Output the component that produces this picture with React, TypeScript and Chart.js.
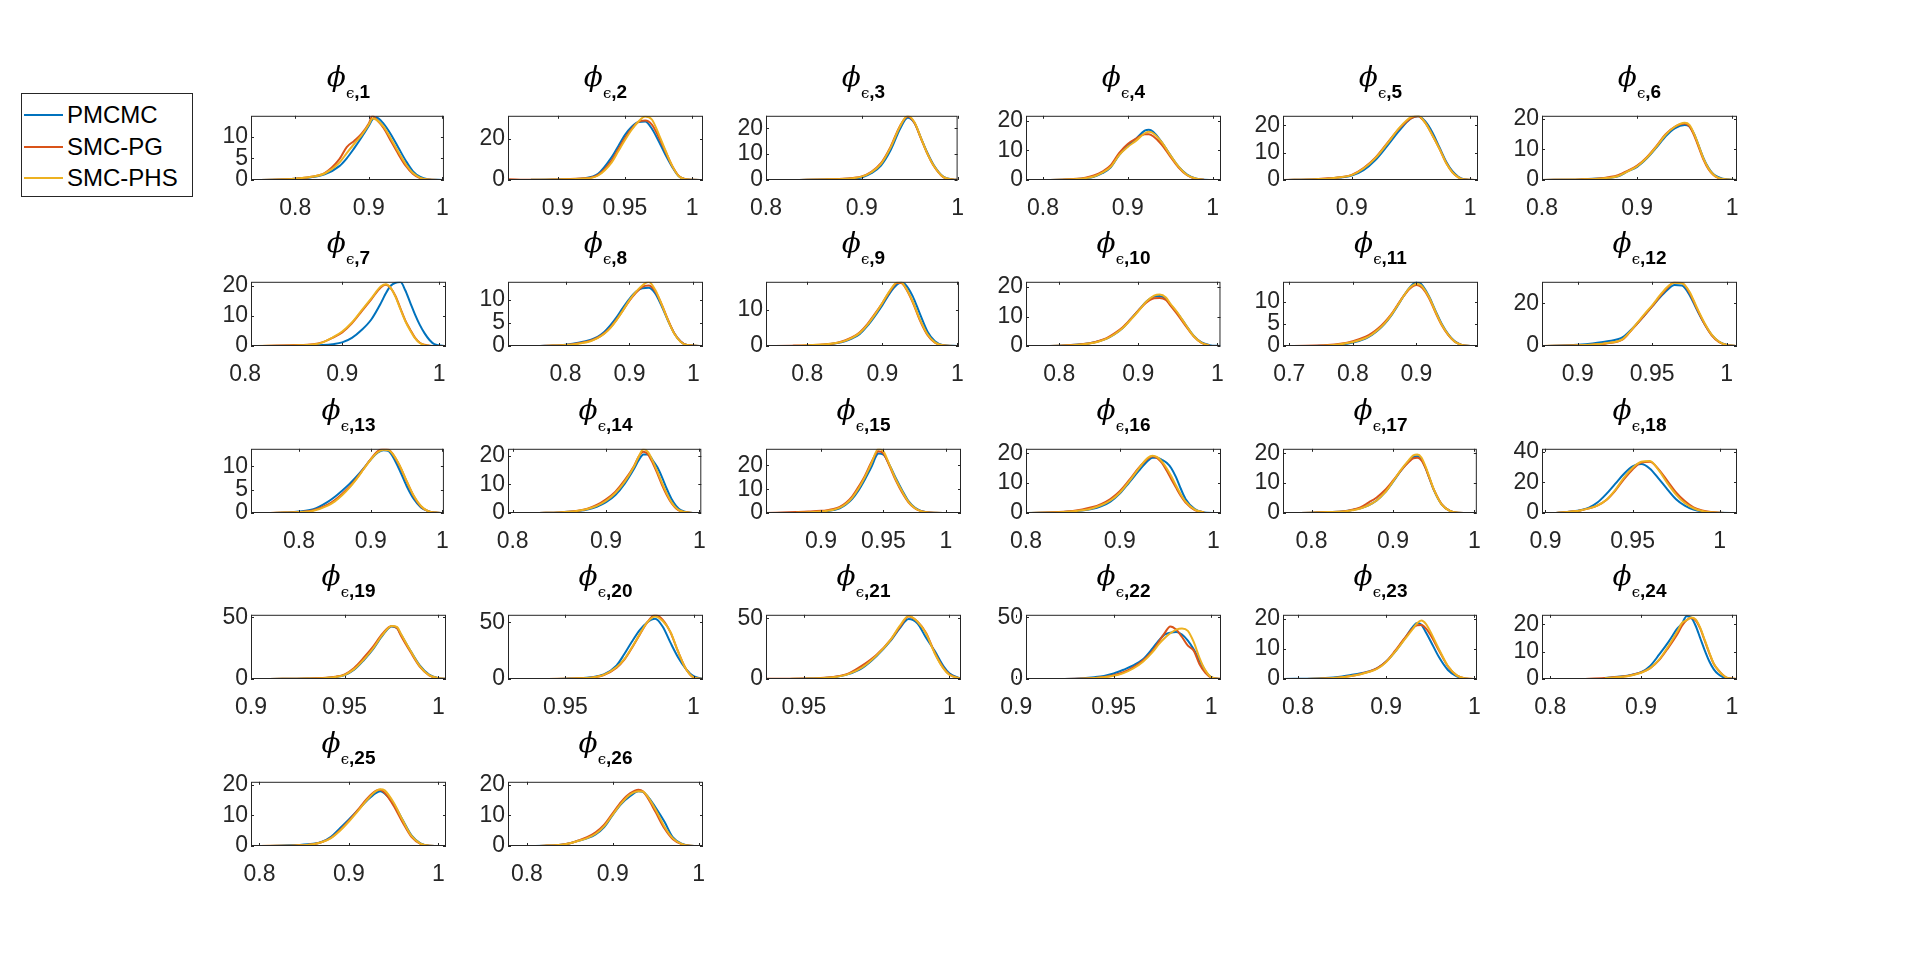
import React, { useEffect, useRef } from "react";
import { Chart, registerables } from "chart.js";
Chart.register(...registerables);

// ---------- series ----------
const SERIES_NAMES = ["PMCMC", "SMC-PG", "SMC-PHS"];
const SERIES_COLORS = ["#0072BD", "#D95319", "#EDB120"];
const N = null;

// ---------- data ----------
const x1 = [0.74, 0.78, 0.8, 0.82, 0.84, 0.86, 0.87, 0.88, 0.89, 0.9, 0.905, 0.91, 0.92, 0.93, 0.94, 0.95, 0.96, 0.97, 0.98, 1.0];
const pm1 = [0, 0.1, 0.3, 0.6, 1.3, 3.2, 5.0, 7.3, 9.8, 12.5, 14.0, 14.4, 13.0, 10.5, 7.5, 4.5, 2.0, 0.7, 0.2, 0];
const pg1 = [0, 0.1, 0.3, 0.7, 1.6, 4.8, 7.6, 9.0, 10.6, 13.0, 14.8, 14.0, 12.0, 9.0, 6.0, 3.3, 1.4, 0.4, 0.1, 0];
const phs1 = [0, 0.1, 0.3, 0.7, 1.5, 4.0, 6.2, 8.3, 10.3, 12.8, 14.2, 13.9, 12.3, 9.5, 6.5, 3.7, 1.6, 0.5, 0.1, 0];
const xlim1 = [0.74, 1.002]; const ymax1 = 14.8; const xt1 = [0.8, 0.9, 1]; const yt1 = [0, 5, 10];

const x2 = [0.863, 0.88, 0.9, 0.92, 0.93, 0.94, 0.945, 0.95, 0.955, 0.96, 0.965, 0.97, 0.975, 0.98, 0.985, 0.99, 0.995, 1.0, 1.008];
const pm2 = [N, 0.1, 0.3, 0.9, 3.0, 11, 16.5, 22, 26, 28.3, 28.5, 25, 19, 12.4, 6.5, 1.8, 0.4, 0.1, 0];
const pg2 = [0.4, 0.1, 0.3, 0.8, 2.5, 9.5, 15, 20.5, 25, 28.3, 29.0, 27, 21, 14, 7, 2.0, 0.4, 0.1, 0];
const phs2 = [N, 0.1, 0.3, 0.7, 2.2, 8.5, 14, 19.5, 24.5, 28.5, 31, 29.5, 22.5, 14.5, 7, 1.8, 0.4, 0.1, 0];
const xlim2 = [0.863, 1.008]; const ymax2 = 31.3; const xt2 = [0.9, 0.95, 1]; const yt2 = [0, 20];

const x3 = [0.835, 0.86, 0.88, 0.89, 0.9, 0.91, 0.92, 0.93, 0.94, 0.948, 0.955, 0.962, 0.968, 0.975, 0.985, 0.995, 1.0];
const pm3 = [0, 0.2, 0.4, 0.6, 1.0, 2.6, 5.6, 11.5, 19.8, 24.0, 22.0, 16.0, 10.8, 5.8, 1.3, 0.2, 0];
const pg3 = [0, 0.2, 0.5, 0.8, 1.4, 3.2, 6.5, 12.8, 21.0, 24.5, 22.0, 15.8, 10.5, 5.5, 1.1, 0.2, 0];
const phs3 = [0, 0.2, 0.4, 0.7, 1.3, 3.0, 6.2, 12.5, 20.8, 24.8, 22.3, 16.0, 10.6, 5.6, 1.2, 0.2, 0];
const xlim3 = [0.8, 1.0]; const ymax3 = 24.8; const xt3 = [0.8, 0.9, 1]; const yt3 = [0, 10, 20];

const x4 = [0.78, 0.82, 0.84, 0.85, 0.86, 0.87, 0.88, 0.89, 0.9, 0.91, 0.92, 0.925, 0.93, 0.94, 0.95, 0.96, 0.97, 0.98, 0.99, 1.01];
const pm4 = [0, 0.1, 0.3, 0.6, 1.1, 2.3, 4.3, 8.5, 11.5, 14.0, 16.7, 17.0, 16.3, 12.8, 8.5, 4.5, 1.8, 0.5, 0.1, 0];
const pg4 = [0, 0.1, 0.4, 0.8, 1.5, 2.8, 5.0, 9.2, 12.2, 14.0, 15.5, 15.5, 14.8, 12.0, 8.0, 4.2, 1.6, 0.4, 0.1, N];
const phs4 = [0, 0.1, 0.3, 0.6, 1.2, 2.5, 4.5, 8.5, 11.2, 13.3, 15.8, 16.3, 15.8, 12.8, 8.5, 4.5, 1.7, 0.5, 0.1, N];
const xlim4 = [0.78, 1.01]; const ymax4 = 21.7; const xt4 = [0.8, 0.9, 1]; const yt4 = [0, 10, 20];

const x5 = [0.842, 0.87, 0.88, 0.89, 0.9, 0.91, 0.92, 0.93, 0.94, 0.95, 0.956, 0.962, 0.968, 0.974, 0.98, 0.985, 0.99, 0.995, 1.0066];
const pm5 = [0, 0.3, 0.5, 0.9, 1.6, 3.6, 7.3, 12.5, 18, 22.5, 23.3, 21.5, 17.5, 12, 6.5, 3.2, 1.2, 0.3, 0];
const pg5 = [0, 0.3, 0.6, 1.0, 1.9, 4.4, 8.2, 13.5, 18.8, 22.6, 23.3, 21, 16.5, 11.5, 6, 2.8, 1.0, 0.2, 0];
const phs5 = [0, 0.3, 0.5, 1.0, 1.8, 4.2, 8.0, 13.3, 19, 23, 23.5, 21, 16.5, 11.5, 6, 2.8, 1, 0.2, 0];
const xlim5 = [0.842, 1.0066]; const ymax5 = 23.5; const xt5 = [0.9, 1]; const yt5 = [0, 10, 20];

const x6 = [0.8, 0.84, 0.86, 0.87, 0.88, 0.89, 0.9, 0.91, 0.92, 0.93, 0.94, 0.95, 0.955, 0.96, 0.965, 0.97, 0.975, 0.98, 0.985, 0.99, 1.005];
const pm6 = [0, 0.2, 0.5, 0.7, 1.2, 2.8, 4.3, 7.0, 10.5, 14.3, 17.0, 18.0, 17.5, 15.0, 11.0, 7.0, 4.0, 2.0, 1.0, 0.4, 0];
const pg6 = [0, 0.2, 0.5, 0.9, 1.6, 3.0, 4.7, 7.4, 11.0, 15.0, 17.5, 18.5, 17.5, 14.5, 10.5, 6.5, 3.5, 1.7, 0.7, 0.2, 0];
const phs6 = [0, 0.2, 0.4, 0.7, 1.3, 2.8, 4.5, 7.2, 10.8, 14.8, 17.5, 18.7, 18.0, 15, 11, 6.8, 3.8, 1.8, 0.8, 0.3, 0];
const xlim6 = [0.8, 1.005]; const ymax6 = 21; const xt6 = [0.8, 0.9, 1]; const yt6 = [0, 10, 20];

const x7 = [0.812, 0.85, 0.87, 0.88, 0.89, 0.9, 0.91, 0.92, 0.93, 0.94, 0.945, 0.95, 0.955, 0.96, 0.965, 0.97, 0.975, 0.98, 0.985, 0.99, 0.995, 1.007];
const pm7 = [0, 0.1, 0.2, 0.3, 0.6, 1.2, 2.7, 5.3, 8.8, 14.3, 17.5, 20, 21, 21.2, 18.5, 14.5, 10.5, 7, 4.2, 2.0, 0.6, 0];
const pg7 = [0, 0.3, 0.6, 1.3, 2.7, 4.5, 7.5, 11.5, 15.5, 19.5, 20.3, 19.2, 16.5, 12.5, 8.5, 5.5, 2.8, 1.1, 0.4, 0.1, 0, 0];
const phs7 = [0, 0.2, 0.5, 1.2, 2.8, 4.8, 7.8, 11.8, 15.8, 19.8, 20.5, 19.3, 16.3, 12.2, 8.3, 5.2, 2.6, 1.0, 0.3, 0.1, 0, 0];
const xlim7 = [0.806, 1.007]; const ymax7 = 21.3; const xt7 = [0.8, 0.9, 1]; const yt7 = [0, 10, 20];

const x8 = [0.71, 0.76, 0.78, 0.8, 0.82, 0.84, 0.85, 0.86, 0.87, 0.88, 0.89, 0.9, 0.91, 0.92, 0.93, 0.94, 0.95, 0.96, 0.97, 0.98, 0.99, 1.015];
const pm8 = [N, 0, 0.1, 0.3, 0.7, 1.4, 2.0, 3.0, 4.5, 6.3, 8.4, 10.3, 11.8, 12.6, 12.7, 11.5, 8.8, 5.6, 2.8, 1.0, 0.2, 0];
const pg8 = [N, 0, 0.1, 0.2, 0.6, 1.2, 1.8, 2.7, 4.0, 5.8, 7.8, 9.9, 11.6, 12.9, 13.2, 12.0, 9.2, 5.8, 2.8, 1.0, 0.2, 0];
const phs8 = [0, 0, 0.1, 0.2, 0.5, 1.1, 1.7, 2.6, 3.9, 5.7, 7.8, 10, 11.8, 13.2, 14.0, 12.3, 9.2, 5.7, 2.7, 0.9, 0.2, 0];
const xlim8 = [0.71, 1.015]; const ymax8 = 14; const xt8 = [0.8, 0.9, 1]; const yt8 = [0, 5, 10];

const x9 = [0.745, 0.78, 0.8, 0.82, 0.84, 0.85, 0.86, 0.87, 0.88, 0.89, 0.9, 0.91, 0.92, 0.925, 0.93, 0.94, 0.95, 0.96, 0.97, 0.98, 1.0];
const pm9 = [N, N, 0.1, 0.3, 0.8, 1.3, 2.1, 3.3, 5.5, 8.2, 11.2, 14.5, 16.9, 17.4, 17.0, 13.8, 8.8, 4.0, 1.3, 0.3, 0];
const pg9 = [0, 0.1, 0.2, 0.4, 0.9, 1.5, 2.4, 3.8, 6.0, 8.8, 11.8, 15.0, 17.3, 17.3, 16.2, 12.2, 7.0, 3.0, 0.9, 0.2, 0];
const phs9 = [N, 0, 0.2, 0.4, 0.9, 1.4, 2.3, 3.6, 5.8, 8.6, 11.8, 15.2, 17.5, 17.5, 16.3, 12.4, 7.3, 3.2, 1.0, 0.2, 0];
const xlim9 = [0.745, 1.002]; const ymax9 = 17.6; const xt9 = [0.8, 0.9, 1]; const yt9 = [0, 10];

const x10 = [0.758, 0.8, 0.82, 0.84, 0.85, 0.86, 0.87, 0.88, 0.89, 0.9, 0.91, 0.92, 0.927, 0.935, 0.94, 0.95, 0.96, 0.97, 0.98, 0.99, 1.004];
const pm10 = [0, 0.1, 0.4, 1.0, 1.6, 2.5, 4.0, 6.0, 9.0, 12.0, 15.0, 16.8, 17.0, 16, 14.3, 11.0, 7.2, 3.5, 1.2, 0.3, 0];
const pg10 = [0, 0.1, 0.4, 1.0, 1.7, 2.7, 4.3, 6.3, 9.0, 12.0, 14.7, 16.2, 16.3, 15.6, 14.0, 10.6, 6.8, 3.3, 1.1, 0.2, N];
const phs10 = [0, 0.1, 0.3, 0.9, 1.5, 2.5, 4.0, 6.0, 8.8, 11.8, 15.0, 17.1, 17.5, 16.5, 14.6, 11.2, 7.2, 3.4, 1.1, 0.2, N];
const xlim10 = [0.758, 1.004]; const ymax10 = 21.8; const xt10 = [0.8, 0.9, 1]; const yt10 = [0, 10, 20];

const x11 = [0.69, 0.74, 0.76, 0.78, 0.8, 0.82, 0.83, 0.84, 0.85, 0.86, 0.87, 0.88, 0.89, 0.9, 0.905, 0.91, 0.92, 0.93, 0.94, 0.95, 0.96, 0.97, 0.98, 0.997];
const pm11 = [N, 0, 0.1, 0.3, 0.8, 1.7, 2.5, 3.6, 5.0, 6.8, 9.0, 11.3, 13.3, 14.4, 14.3, 13.6, 11.2, 8.0, 5.0, 2.7, 1.1, 0.3, 0.05, 0];
const pg11 = [0, 0.1, 0.2, 0.5, 1.1, 2.1, 2.9, 4.0, 5.4, 7.1, 9.2, 11.3, 13.0, 13.8, 13.6, 13.0, 10.8, 7.6, 4.7, 2.5, 1.0, 0.3, 0.05, 0];
const phs11 = [N, 0, 0.1, 0.4, 0.9, 1.8, 2.6, 3.7, 5.1, 6.9, 9.1, 11.3, 13.2, 14.0, 13.9, 13.3, 11.0, 7.8, 4.8, 2.6, 1.0, 0.3, 0.05, 0];
const xlim11 = [0.69, 0.997]; const ymax11 = 14.5; const xt11 = [0.7, 0.8, 0.9]; const yt11 = [0, 5, 10];

const x12 = [0.876, 0.9, 0.91, 0.92, 0.93, 0.935, 0.94, 0.945, 0.95, 0.955, 0.96, 0.965, 0.97, 0.975, 0.98, 0.985, 0.99, 0.995, 1.0, 1.007];
const pm12 = [0, 0.6, 1.2, 2.2, 4.0, 7.0, 10.5, 14.5, 18.5, 22.5, 26, 28.5, 28.3, 24, 17, 10.5, 5.2, 2.0, 0.6, 0];
const pg12 = [0, 0.3, 0.6, 1.3, 3.0, 6.5, 10.5, 14.5, 18.5, 23, 27, 29.8, 29.5, 25, 17.5, 10.5, 5.0, 1.8, 0.5, 0];
const phs12 = [0, 0.3, 0.7, 1.4, 3.1, 6.6, 10.8, 15, 19, 23.5, 27.5, 29.5, 29.3, 25.5, 18, 11, 5.3, 2.0, 0.5, 0];
const xlim12 = [0.876, 1.007]; const ymax12 = 30; const xt12 = [0.9, 0.95, 1]; const yt12 = [0, 20];

const x13 = [0.733, 0.76, 0.78, 0.8, 0.82, 0.84, 0.85, 0.86, 0.87, 0.88, 0.89, 0.9, 0.91, 0.918, 0.925, 0.93, 0.94, 0.95, 0.96, 0.97, 0.98, 0.99, 1.002];
const pm13 = [0, 0, 0.1, 0.3, 0.8, 2.4, 3.5, 4.8, 6.2, 7.8, 9.6, 11.5, 13.0, 13.5, 13.3, 12.3, 9.3, 5.8, 3.0, 1.2, 0.4, 0.1, 0];
const pg13 = [N, 0, 0.1, 0.2, 0.6, 1.8, 2.8, 4.1, 5.6, 7.4, 9.5, 11.6, 13.3, 13.8, 13.6, 12.8, 10.2, 6.8, 3.6, 1.4, 0.4, 0.1, 0];
const phs13 = [N, 0, 0.1, 0.2, 0.5, 1.6, 2.5, 3.8, 5.4, 7.3, 9.4, 11.5, 13.1, 13.6, 13.5, 12.8, 10.3, 6.9, 3.7, 1.5, 0.4, 0.1, 0];
const xlim13 = [0.733, 1.002]; const ymax13 = 13.8; const xt13 = [0.8, 0.9, 1]; const yt13 = [0, 5, 10];

const x14 = [0.828, 0.85, 0.86, 0.87, 0.88, 0.89, 0.9, 0.91, 0.92, 0.93, 0.935, 0.94, 0.945, 0.95, 0.955, 0.96, 0.965, 0.97, 0.975, 0.98, 0.99, 1.0];
const pm14 = [0, 0.2, 0.4, 0.7, 1.2, 2.2, 3.8, 6.3, 10.3, 15.5, 18.5, 20.5, 20.5, 18.5, 16, 12.5, 8.5, 5.0, 2.5, 1.0, 0.1, 0];
const pg14 = [0, 0.2, 0.4, 0.8, 1.5, 2.8, 4.8, 7.5, 11.5, 16.5, 19.8, 21.5, 20.5, 17.5, 13.8, 9.8, 6.3, 3.5, 1.6, 0.6, 0.1, 0];
const phs14 = [0, 0.2, 0.4, 0.8, 1.4, 2.5, 4.3, 7.0, 11.0, 16.3, 19.8, 22.3, 21.3, 18.2, 14.5, 10.5, 6.8, 3.8, 1.8, 0.7, 0.1, 0];
const xlim14 = [0.795, 1.002]; const ymax14 = 22.5; const xt14 = [0.8, 0.9, 1]; const yt14 = [0, 10, 20];

const x15 = [0.856, 0.88, 0.89, 0.9, 0.905, 0.91, 0.915, 0.92, 0.925, 0.93, 0.935, 0.94, 0.946, 0.95, 0.955, 0.96, 0.965, 0.97, 0.975, 0.98, 0.99, 1.012];
const pm15 = [0, 0.1, 0.2, 0.4, 0.7, 1.2, 2.0, 3.6, 6.0, 9.5, 14, 19, 25.0, 24.5, 20, 14.5, 9.5, 5.0, 2.3, 0.9, 0.1, 0];
const pg15 = [0, 0.4, 0.6, 0.9, 1.2, 1.7, 2.6, 4.3, 7.0, 11, 15.5, 21, 26, 25, 19.5, 13.5, 8.5, 4.5, 2.0, 0.8, 0.1, 0];
const phs15 = [N, 0.1, 0.3, 0.6, 0.9, 1.4, 2.3, 3.9, 6.5, 10.3, 15, 20.5, 27, 25.8, 20, 14, 9, 4.7, 2.1, 0.8, 0.1, 0];
const xlim15 = [0.856, 1.012]; const ymax15 = 27; const xt15 = [0.9, 0.95, 1]; const yt15 = [0, 10, 20];

const x16 = [0.8, 0.84, 0.86, 0.87, 0.88, 0.89, 0.9, 0.91, 0.92, 0.93, 0.935, 0.94, 0.945, 0.95, 0.955, 0.96, 0.965, 0.97, 0.98, 0.99, 1.008];
const pm16 = [0, 0.3, 0.8, 1.3, 2.2, 3.8, 6.5, 10.2, 14.0, 17.5, 18.5, 18.5, 17.8, 16.8, 15.0, 12.0, 8.2, 4.8, 1.3, 0.2, 0];
const pg16 = [0, 0.4, 1.2, 1.9, 3.0, 4.7, 7.3, 11.0, 15.0, 18.2, 19.0, 18.4, 16.8, 14.2, 11.3, 8.5, 5.8, 3.6, 1.0, 0.2, N];
const phs16 = [0, 0.3, 0.9, 1.5, 2.6, 4.2, 6.8, 10.6, 14.8, 18.5, 19.2, 18.7, 17.2, 15.0, 12.3, 9.2, 6.3, 3.9, 1.1, 0.2, N];
const xlim16 = [0.8, 1.008]; const ymax16 = 21.5; const xt16 = [0.8, 0.9, 1]; const yt16 = [0, 10, 20];

const x17 = [0.77, 0.8, 0.82, 0.84, 0.85, 0.86, 0.87, 0.88, 0.89, 0.9, 0.91, 0.92, 0.925, 0.93, 0.935, 0.94, 0.945, 0.95, 0.96, 0.97, 0.98, 1.0];
const pm17 = [0, 0.1, 0.3, 0.6, 1.0, 1.6, 2.6, 4.2, 6.8, 10.4, 14.3, 17.5, 18.7, 19.0, 18.0, 15.2, 11.5, 7.8, 2.8, 0.7, 0.1, 0];
const pg17 = [0, 0.1, 0.3, 0.6, 1.1, 1.9, 3.5, 5.2, 7.6, 10.8, 14.3, 17.2, 18.3, 18.5, 17.6, 15.0, 11.5, 8.0, 2.9, 0.7, 0.1, 0];
const phs17 = [0, 0.1, 0.3, 0.5, 0.9, 1.5, 2.6, 4.2, 6.8, 10.5, 14.5, 17.9, 19.3, 19.6, 18.6, 15.6, 11.8, 8.0, 2.8, 0.7, 0.1, 0];
const xlim17 = [0.765, 1.003]; const ymax17 = 21.5; const xt17 = [0.8, 0.9, 1]; const yt17 = [0, 10, 20];

const x18 = [0.906, 0.915, 0.92, 0.925, 0.93, 0.935, 0.94, 0.945, 0.95, 0.955, 0.96, 0.965, 0.97, 0.975, 0.98, 0.985, 0.99, 0.995, 1.0, 1.01];
const pm18 = [0, 1.0, 1.8, 3.5, 7.0, 12.5, 19.0, 25.5, 30.5, 32.0, 29.0, 22.5, 15.5, 9.0, 4.8, 2.2, 0.9, 0.3, 0.1, 0];
const pg18 = [0, 1.0, 1.7, 3.0, 5.0, 8.5, 14.5, 22, 28.5, 33.0, 33.5, 28.5, 21, 13.5, 7.8, 3.7, 1.6, 0.6, 0.2, 0];
const phs18 = [0, 1.0, 1.7, 3.0, 5.0, 8.7, 15, 23, 29.5, 33.5, 34.0, 28, 19.5, 12, 6.5, 3.1, 1.3, 0.5, 0.2, 0];
const xlim18 = [0.898, 1.01]; const ymax18 = 42; const xt18 = [0.9, 0.95, 1]; const yt18 = [0, 20, 40];

const x19 = [0.91, 0.93, 0.94, 0.945, 0.95, 0.955, 0.96, 0.965, 0.97, 0.975, 0.978, 0.98, 0.985, 0.99, 0.995, 1.0, 1.004];
const pm19 = [0, 0.4, 0.9, 1.6, 3.2, 7.5, 15, 24, 35, 42.5, 41, 36, 23, 11, 3.5, 0.7, 0.1];
const pg19 = [0, 0.4, 1.0, 1.8, 3.8, 9.0, 17, 26, 36.5, 43, 41, 35, 22, 10, 3.0, 0.5, 0.1];
const phs19 = [0, 0.4, 0.9, 1.6, 3.4, 8.0, 15.5, 24.5, 35.5, 43, 42, 36.5, 23, 10.5, 3.2, 0.6, 0.1];
const xlim19 = [0.9, 1.004]; const ymax19 = 52; const xt19 = [0.9, 0.95, 1]; const yt19 = [0, 50];

const x20 = [0.9276, 0.94, 0.95, 0.955, 0.96, 0.965, 0.97, 0.973, 0.976, 0.979, 0.982, 0.985, 0.988, 0.991, 0.994, 0.997, 1.0, 1.0037];
const pm20 = [0, 0, 0.3, 0.6, 1.5, 4.0, 12, 22, 33, 43, 50, 53, 46, 32, 19, 9, 2.5, 0];
const pg20 = [N, 0, 0.3, 0.6, 1.2, 3.5, 10, 17, 27.5, 39, 50, 56.5, 52, 41, 24, 9, 1.5, 0.1];
const phs20 = [N, 0, 0.3, 0.6, 1.2, 3.6, 10.5, 17.5, 28, 39.5, 50, 55, 51, 41.5, 24, 9, 1.5, 0.1];
const xlim20 = [0.9276, 1.0037]; const ymax20 = 56.5; const xt20 = [0.95, 1]; const yt20 = [0, 50];

const x21 = [0.937, 0.945, 0.95, 0.955, 0.96, 0.965, 0.97, 0.975, 0.98, 0.983, 0.986, 0.989, 0.992, 0.995, 0.998, 1.0, 1.004];
const pm21 = [N, 0, 0.3, 0.6, 1.5, 3.8, 9.0, 19, 32, 42, 49.5, 46, 34, 23, 10.5, 4.8, 0.3];
const pg21 = [0.3, 0.3, 0.4, 0.7, 1.6, 4.2, 11, 20, 33, 43, 51.5, 47.5, 38, 21.5, 9, 3.8, 0.2];
const phs21 = [N, 0.1, 0.3, 0.6, 1.4, 3.8, 9.5, 19.5, 33, 44, 52, 47.5, 37.5, 21, 8.5, 3.5, 0.2];
const xlim21 = [0.937, 1.004]; const ymax21 = 53; const xt21 = [0.95, 1]; const yt21 = [0, 50];

const x22 = [0.912, 0.93, 0.94, 0.945, 0.95, 0.955, 0.96, 0.965, 0.97, 0.973, 0.976, 0.979, 0.982, 0.985, 0.988, 0.991, 0.994, 0.997, 1.0, 1.005];
const pm22 = [0, 0.3, 1.5, 2.5, 4.5, 7.5, 11, 16, 25, 31, 36, 37.5, 38, 36, 31, 24, 15, 6.5, 1.5, 0];
const pg22 = [0, 0.3, 0.9, 1.6, 3.0, 5.5, 9.5, 15, 23, 30, 37, 42.5, 40, 34, 27, 23, 12, 5, 1.2, 0.1];
const phs22 = [N, 0, 0.8, 1.4, 2.6, 4.8, 8.5, 14, 22, 28, 33, 37, 40, 41, 39, 30, 17, 7, 1.5, 0.1];
const xlim22 = [0.905, 1.005]; const ymax22 = 52; const xt22 = [0.9, 0.95, 1]; const yt22 = [0, 50];

const x23 = [0.783, 0.82, 0.84, 0.85, 0.86, 0.87, 0.88, 0.89, 0.9, 0.91, 0.92, 0.93, 0.935, 0.94, 0.945, 0.95, 0.96, 0.97, 0.98, 0.99, 1.003];
const pm23 = [0, 0.2, 0.5, 0.8, 1.3, 1.8, 2.5, 3.6, 5.8, 9.0, 13, 17.2, 18.6, 18.0, 15.5, 12.8, 7.2, 3.0, 0.9, 0.1, 0];
const pg23 = [0, 0.1, 0.3, 0.6, 1.0, 1.6, 2.4, 3.6, 5.8, 9.3, 13.2, 16.8, 17.8, 17.9, 16.8, 14.8, 9.4, 4.2, 1.2, 0.2, 0];
const phs23 = [0, 0.1, 0.3, 0.6, 1.0, 1.5, 2.3, 3.4, 5.6, 9.0, 12.8, 16.5, 18.5, 19.4, 18.3, 15.8, 9.8, 4.3, 1.2, 0.2, 0];
const xlim23 = [0.783, 1.003]; const ymax23 = 21.3; const xt23 = [0.8, 0.9, 1]; const yt23 = [0, 10, 20];

const x24 = [0.835, 0.86, 0.88, 0.89, 0.9, 0.91, 0.92, 0.93, 0.94, 0.945, 0.95, 0.955, 0.96, 0.965, 0.97, 0.975, 0.98, 0.985, 0.99, 0.995, 1.0055];
const pm24 = [N, 0.4, 1.0, 1.6, 2.5, 4.8, 9.0, 13.5, 18.5, 20.3, 23.0, 22.5, 19.5, 15, 10.5, 6.5, 3.5, 1.7, 0.7, 0.2, 0];
const pg24 = [0, 0.4, 0.9, 1.5, 2.4, 4.0, 7.0, 11.5, 16.5, 19.5, 21.5, 22.3, 21.5, 18.5, 14, 9.5, 5.5, 3.2, 1.5, 0.4, 0];
const phs24 = [N, 0.3, 0.8, 1.4, 2.3, 4.0, 7.2, 12, 17.5, 20.5, 21.5, 22.5, 21.8, 18.8, 14.3, 9.7, 5.6, 3.2, 1.5, 0.4, 0];
const xlim24 = [0.791, 1.0055]; const ymax24 = 23.5; const xt24 = [0.8, 0.9, 1]; const yt24 = [0, 10, 20];

const x25 = [0.7905, 0.82, 0.84, 0.86, 0.87, 0.88, 0.89, 0.9, 0.91, 0.92, 0.93, 0.935, 0.94, 0.95, 0.96, 0.97, 0.98, 0.99, 1.0086];
const pm25 = [0, 0.1, 0.3, 0.7, 1.4, 3.0, 5.8, 8.7, 11.7, 14.8, 17.3, 17.9, 17.2, 13.8, 8.6, 3.5, 0.9, 0.1, 0];
const pg25 = [0, 0.1, 0.2, 0.6, 1.3, 2.7, 5.2, 8.3, 11.8, 15.4, 18.0, 18.4, 17.4, 13.2, 7.8, 3.0, 0.7, 0.1, 0];
const phs25 = [0, 0.1, 0.2, 0.6, 1.3, 2.6, 5.0, 8.0, 11.4, 15.0, 17.9, 18.6, 18.2, 14.2, 8.5, 3.3, 0.8, 0.1, 0];
const xlim25 = [0.7905, 1.0086]; const ymax25 = 21; const xt25 = [0.8, 0.9, 1]; const yt25 = [0, 10, 20];

const x26 = [0.778, 0.8, 0.82, 0.84, 0.85, 0.86, 0.87, 0.88, 0.89, 0.9, 0.91, 0.92, 0.93, 0.935, 0.94, 0.95, 0.96, 0.97, 0.98, 0.99, 1.005];
const pm26 = [0, 0, 0.1, 0.4, 0.9, 1.7, 2.5, 3.8, 6.2, 10.2, 13.8, 16.3, 17.9, 17.7, 16.5, 12.5, 8.0, 2.8, 0.8, 0.1, 0];
const pg26 = [N, 0, 0.1, 0.4, 0.9, 1.8, 2.9, 4.5, 7.0, 10.8, 14.5, 17.2, 18.4, 17.9, 16.0, 11.0, 5.8, 2.2, 0.6, 0.1, 0];
const phs26 = [N, 0, 0.1, 0.4, 0.9, 1.7, 2.6, 4.0, 6.5, 10.3, 14.0, 16.8, 17.9, 17.8, 16.4, 11.8, 6.4, 2.5, 0.7, 0.1, 0];
const xlim26 = [0.778, 1.005]; const ymax26 = 21; const xt26 = [0.8, 0.9, 1]; const yt26 = [0, 10, 20];

// table built from the arrays above
const PLOTS = [
  [x1, pm1, pg1, phs1, xlim1, ymax1, xt1, yt1],
  [x2, pm2, pg2, phs2, xlim2, ymax2, xt2, yt2],
  [x3, pm3, pg3, phs3, xlim3, ymax3, xt3, yt3],
  [x4, pm4, pg4, phs4, xlim4, ymax4, xt4, yt4],
  [x5, pm5, pg5, phs5, xlim5, ymax5, xt5, yt5],
  [x6, pm6, pg6, phs6, xlim6, ymax6, xt6, yt6],
  [x7, pm7, pg7, phs7, xlim7, ymax7, xt7, yt7],
  [x8, pm8, pg8, phs8, xlim8, ymax8, xt8, yt8],
  [x9, pm9, pg9, phs9, xlim9, ymax9, xt9, yt9],
  [x10, pm10, pg10, phs10, xlim10, ymax10, xt10, yt10],
  [x11, pm11, pg11, phs11, xlim11, ymax11, xt11, yt11],
  [x12, pm12, pg12, phs12, xlim12, ymax12, xt12, yt12],
  [x13, pm13, pg13, phs13, xlim13, ymax13, xt13, yt13],
  [x14, pm14, pg14, phs14, xlim14, ymax14, xt14, yt14],
  [x15, pm15, pg15, phs15, xlim15, ymax15, xt15, yt15],
  [x16, pm16, pg16, phs16, xlim16, ymax16, xt16, yt16],
  [x17, pm17, pg17, phs17, xlim17, ymax17, xt17, yt17],
  [x18, pm18, pg18, phs18, xlim18, ymax18, xt18, yt18],
  [x19, pm19, pg19, phs19, xlim19, ymax19, xt19, yt19],
  [x20, pm20, pg20, phs20, xlim20, ymax20, xt20, yt20],
  [x21, pm21, pg21, phs21, xlim21, ymax21, xt21, yt21],
  [x22, pm22, pg22, phs22, xlim22, ymax22, xt22, yt22],
  [x23, pm23, pg23, phs23, xlim23, ymax23, xt23, yt23],
  [x24, pm24, pg24, phs24, xlim24, ymax24, xt24, yt24],
  [x25, pm25, pg25, phs25, xlim25, ymax25, xt25, yt25],
  [x26, pm26, pg26, phs26, xlim26, ymax26, xt26, yt26],
].map((r: any[]) => ({ x: r[0], s: [r[1], r[2], r[3]], xlim: r[4], ymax: r[5], xt: r[6], yt: r[7] }));

// ---------- layout ----------
const COL_LEFT = [251, 508, 766, 1026, 1283, 1542];
const ROW_TOP = [113, 279, 446, 612, 779];
const BOX_W = 195;
const BOX_H = 67;
const PAD_T = 14;
const PAD_R = 18;
const Y_W = 62;
const X_H = 48;
const AXIS_COLOR = "#262626";
const TICK_FONT = { family: "'Liberation Sans', Arial, sans-serif", size: 23 };

function fmt(v: number) {
  return String(Math.round(v * 1000) / 1000);
}

const boxPlugin = {
  id: "matlabBox",
  afterDatasetsDraw(chart: any) {
    const { ctx, chartArea } = chart;
    const { left, top, right, bottom } = chartArea;
    const xs = chart.scales.x;
    const ys = chart.scales.y;
    ctx.save();
    ctx.strokeStyle = AXIS_COLOR;
    ctx.lineWidth = 1;
    ctx.strokeRect(left + 0.5, top + 0.5, right - left - 1, bottom - top - 1);
    ctx.beginPath();
    xs.ticks.forEach((t: any) => {
      const px = Math.round(xs.getPixelForValue(t.value)) + 0.5;
      ctx.moveTo(px, bottom); ctx.lineTo(px, bottom - 3);
      ctx.moveTo(px, top); ctx.lineTo(px, top + 3);
    });
    ys.ticks.forEach((t: any) => {
      const py = Math.round(ys.getPixelForValue(t.value)) + 0.5;
      ctx.moveTo(left, py); ctx.lineTo(left + 3, py);
      ctx.moveTo(right, py); ctx.lineTo(right - 3, py);
    });
    ctx.stroke();
    ctx.restore();
  },
};

function SubPlot({ p, idx }: { p: any; idx: number }) {
  const ref = useRef<HTMLCanvasElement>(null);
  useEffect(() => {
    const datasets = p.s.map((ys: (number | null)[], k: number) => ({
      label: SERIES_NAMES[k],
      data: p.x
        .map((xv: number, i: number) => (ys[i] == null ? null : { x: xv, y: ys[i] }))
        .filter((d: any) => d !== null),
      borderColor: SERIES_COLORS[k],
      backgroundColor: SERIES_COLORS[k],
      borderWidth: 2,
      pointRadius: 0,
      fill: false,
      cubicInterpolationMode: "monotone",
      order: 3 - k,
    }));
    const chart = new Chart(ref.current as HTMLCanvasElement, {
      type: "line",
      data: { datasets },
      options: {
        responsive: false,
        animation: false,
        devicePixelRatio: 1,
        layout: { padding: { top: PAD_T, right: PAD_R, left: 0, bottom: 0 } },
        plugins: { legend: { display: false }, tooltip: { enabled: false }, title: { display: false } },
        scales: {
          x: {
            type: "linear",
            min: p.xlim[0],
            max: p.xlim[1],
            afterBuildTicks: (s: any) => { s.ticks = p.xt.map((v: number) => ({ value: v })); },
            afterFit: (s: any) => { s.height = X_H; },
            grid: { display: false, drawTicks: false },
            border: { display: false },
            ticks: { font: TICK_FONT, color: AXIS_COLOR, padding: 15, maxRotation: 0, autoSkip: false, callback: (v: any) => fmt(Number(v)) },
          },
          y: {
            type: "linear",
            min: 0,
            max: p.ymax,
            afterBuildTicks: (s: any) => { s.ticks = p.yt.map((v: number) => ({ value: v })); },
            afterFit: (s: any) => { s.width = Y_W; },
            grid: { display: false, drawTicks: false },
            border: { display: false },
            ticks: { font: TICK_FONT, color: AXIS_COLOR, padding: 3, autoSkip: false, callback: (v: any) => fmt(Number(v)) },
          },
        },
      } as any,
      plugins: [boxPlugin],
    });
    return () => chart.destroy();
  }, []);

  const col = idx % 6;
  const row = Math.floor(idx / 6);
  const left = COL_LEFT[col];
  const top = ROW_TOP[row];
  const cw = Y_W + BOX_W + PAD_R;
  const ch = PAD_T + BOX_H + X_H;
  return (
    <>
      <canvas
        ref={ref}
        width={cw}
        height={ch}
        style={{ position: "absolute", left: left - Y_W, top: top - PAD_T, width: cw, height: ch, display: "block" }}
      />
      <div
        style={{
          position: "absolute",
          left,
          top: top - 52,
          width: BOX_W,
          textAlign: "center",
          whiteSpace: "nowrap",
          fontFamily: "'DejaVu Serif', serif",
          fontSize: 28,
          lineHeight: "32px",
          color: "#000",
        }}
      >
        <span style={{ fontStyle: "italic" }}>ϕ</span>
        <span style={{ fontSize: 19, verticalAlign: -12 }}>
          <span style={{ fontFamily: "'DejaVu Serif', serif", fontSize: 15 }}>ϵ</span>
          <span style={{ fontFamily: "'Liberation Sans', Arial, sans-serif", fontWeight: "bold" }}>,{idx + 1}</span>
        </span>
      </div>
    </>
  );
}

function Legend() {
  const rowsY = [115, 147, 178];
  return (
    <>
      <div
        style={{
          position: "absolute",
          left: 21,
          top: 93,
          width: 172,
          height: 104,
          border: `1px solid ${AXIS_COLOR}`,
          boxSizing: "border-box",
          background: "#fff",
        }}
      />
      {SERIES_NAMES.map((name, k) => (
        <React.Fragment key={name}>
          <div
            style={{
              position: "absolute",
              left: 24,
              top: rowsY[k] - 1,
              width: 39,
              height: 2,
              background: SERIES_COLORS[k],
            }}
          />
          <div
            style={{
              position: "absolute",
              left: 67,
              top: rowsY[k] - 15,
              height: 30,
              lineHeight: "30px",
              fontFamily: "'Liberation Sans', Arial, sans-serif",
              fontSize: 24,
              color: "#000",
              whiteSpace: "nowrap",
            }}
          >
            {name}
          </div>
        </React.Fragment>
      ))}
    </>
  );
}

export default function App() {
  return (
    <div style={{ position: "absolute", left: 0, top: 0, width: 1920, height: 963, background: "#fff", overflow: "hidden" }}>
      <Legend />
      {PLOTS.map((p, i) => (
        <SubPlot key={i} p={p} idx={i} />
      ))}
    </div>
  );
}
